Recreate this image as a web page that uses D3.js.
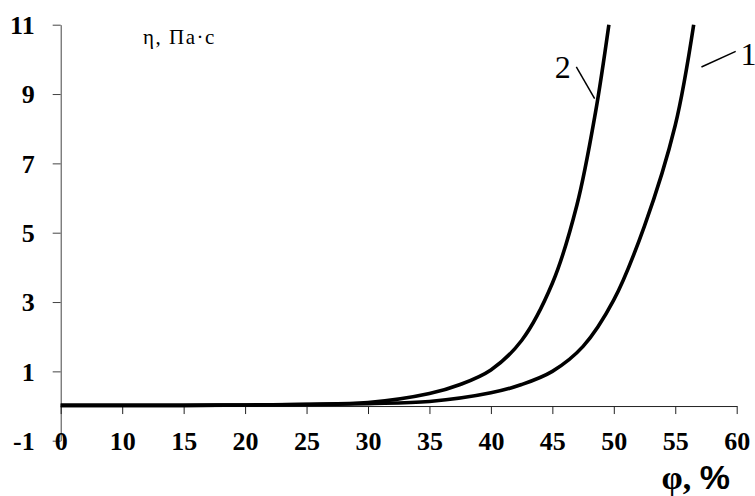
<!DOCTYPE html>
<html>
<head>
<meta charset="utf-8">
<script src="https://cdn.jsdelivr.net/npm/d3@7"></script>
<style>
  body { margin: 0; background: #fff; }
  svg { display: block; }
</style>
</head>
<body>
<div id="chart"></div>
<script>
// Tick labels as printed on the axes
const xTicks = [0, 10, 15, 20, 25, 30, 35, 40, 45, 50, 55, 60];
const yTicks = [-1, 1, 3, 5, 7, 9, 11];

// Curve 1 (right) and curve 2 (left): phi, %  ->  eta, Pa·s
const phi1 = [0, 10, 15, 20, 25, 30, 35, 40, 42.5, 45, 47.5, 50, 52.5, 55, 56.5];
const eta1 = [0.02, 0.02, 0.02, 0.03, 0.04, 0.07, 0.13, 0.38, 0.62, 1.0, 1.72, 3.06, 5.2, 8.1, 11];
const phi2 = [0, 10, 15, 20, 25, 30, 35, 37.5, 40, 42.5, 45, 47, 48.5, 49.6];
const eta2 = [0.02, 0.02, 0.02, 0.03, 0.05, 0.1, 0.36, 0.62, 1.04, 1.89, 3.54, 5.8, 8.45, 11];

// Curve labels: text, anchor on the curve, end of the leader line, text position
const curveLabels = [
  { name: "2", from: [48.44, 8.87], to: [46.95, 9.78], text: [46.5, 9.45], anchor: "end" },
  { name: "1", from: [57.13, 9.78], to: [59.92, 10.23], text: [60.3, 9.83], anchor: "start" }
];

const serif = "'Liberation Serif', 'Times New Roman', serif";
const sans = "'Liberation Sans', Arial, sans-serif";

const width = 755, height = 496;

const svg = d3.select("#chart").append("svg")
  .attr("width", width)
  .attr("height", height);

// The first interval (0..10) is drawn as wide as the 5-unit steps after it
const x = d3.scaleLinear()
  .domain([0, 10, 60])
  .range([60.7, 122.2, 736.7]);

const y = d3.scaleLinear()
  .domain([-1, 11])
  .range([440.7, 24.7]);

// Y axis (runs down to -1)
svg.append("g")
  .attr("transform", `translate(${x(0)},0)`)
  .call(d3.axisLeft(y).tickValues(yTicks).tickSize(8).tickSizeOuter(0).tickPadding(18)
    .tickFormat(d => String(d)))
  .call(g => g.selectAll("path, line").attr("stroke", "#444"))
  .call(g => g.selectAll("text")
    .style("font-family", serif)
    .style("font-weight", "bold")
    .style("font-size", "26px")
    .attr("dy", "0.34em"));

// X axis at eta = 0
svg.append("g")
  .attr("transform", `translate(0,${y(0)})`)
  .call(d3.axisBottom(x).tickValues(xTicks).tickSize(8).tickSizeOuter(0)
    .tickFormat(d => String(d)))
  .call(g => g.selectAll("path, line").attr("stroke", "#222"))
  .call(g => g.selectAll("text")
    .style("font-family", serif)
    .style("font-weight", "bold")
    .style("font-size", "26px")
    .attr("y", y(-1) - y(0))
    .attr("dy", "0.34em"));

// Curves
const line = d3.line()
  .x(d => x(d[0]))
  .y(d => y(d[1]))
  .curve(d3.curveCatmullRom.alpha(0.5));

[[phi1, eta1], [phi2, eta2]].forEach(([px, py]) => {
  svg.append("path")
    .datum(px.map((p, i) => [p, py[i]]))
    .attr("fill", "none")
    .attr("stroke", "#000")
    .attr("stroke-width", 3.6)
    .attr("stroke-linejoin", "round")
    .attr("d", line);
});

// Curve labels with leader lines
curveLabels.forEach(l => {
  svg.append("line")
    .attr("x1", x(l.from[0])).attr("y1", y(l.from[1]))
    .attr("x2", x(l.to[0])).attr("y2", y(l.to[1]))
    .attr("stroke", "#000")
    .attr("stroke-width", 1.5);
  svg.append("text")
    .attr("x", x(l.text[0]))
    .attr("y", y(l.text[1]))
    .attr("text-anchor", l.anchor)
    .style("font-family", serif)
    .style("font-size", "32px")
    .text(l.name);
});

// Y axis title
svg.append("text")
  .attr("x", 143)
  .attr("y", 44)
  .style("font-family", serif)
  .style("font-size", "21px")
  .style("letter-spacing", "1.5px")
  .text("η, Πа·с");

// X axis title
svg.append("text")
  .attr("x", 730)
  .attr("y", 489)
  .attr("text-anchor", "end")
  .style("font-weight", "bold")
  .style("font-size", "34px")
  .call(t => {
    t.append("tspan").style("font-family", serif).text("φ, ");
    t.append("tspan").style("font-family", sans).text("%");
  });
</script>
</body>
</html>
